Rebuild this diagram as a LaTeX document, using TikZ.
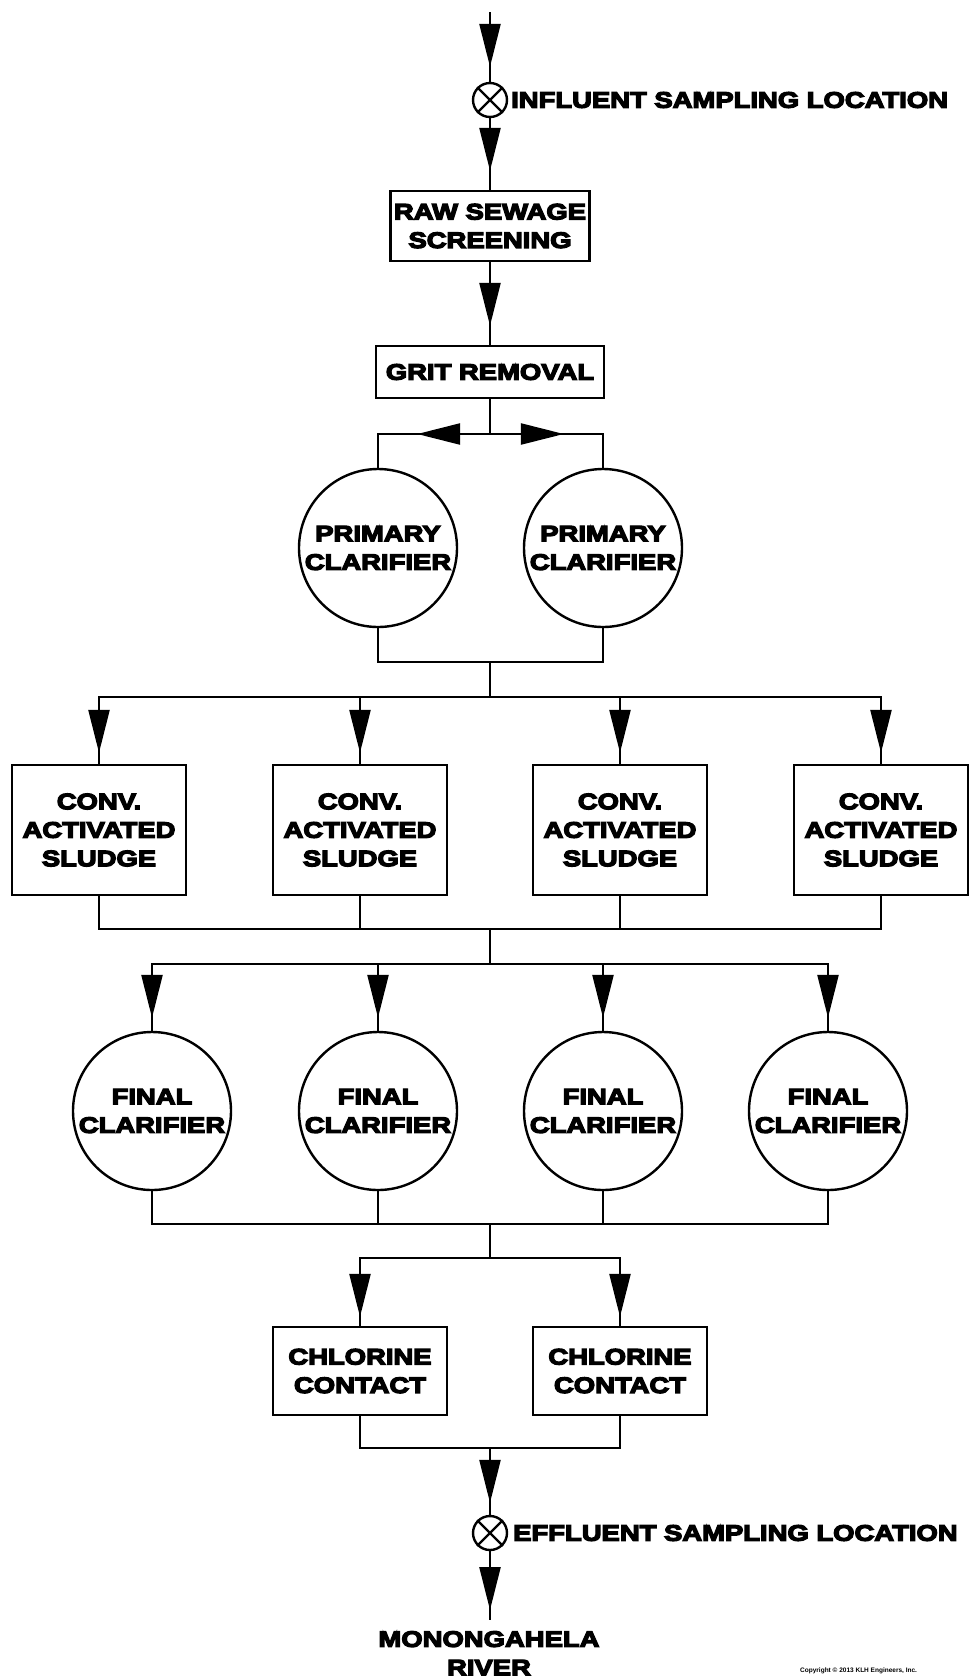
\documentclass[tikz,border=0pt]{standalone}
\usepackage{fontspec}
\newfontfamily\heavy{Liberation Sans}[UprightFont={* Bold}, FakeStretch=1.23, FakeBold=6]
\newfontfamily\copyfont{Liberation Sans}[UprightFont={* Bold}]
\usetikzlibrary{arrows.meta,decorations.markings}
\tikzset{
  ln/.style={line width=2.4pt, line join=miter},
  tipat/.style={postaction={decorate}, decoration={markings, mark=at position -#1 with {\arrow{Triangle[length=43pt,width=21pt]}}}},
  txt/.style={font=\heavy\fontsize{22.3pt}{28.5pt}\selectfont, align=center, inner sep=0pt},
  procbox/.style={ln, draw, rectangle, txt, minimum width=#1},
  clar/.style={ln, draw, circle, txt, minimum size=158pt},
  sampler/.style={ln, draw, circle, minimum size=34pt, inner sep=0pt},
  tiny/.style={font=\copyfont\fontsize{6.5pt}{7pt}\selectfont, inner sep=0pt}
}
\begin{document}
\begin{tikzpicture}[x=1pt,y=-1pt]
\fill[white] (0,0) rectangle (969,1679);
\useasboundingbox (0,0) rectangle (969,1679);

% top
\coordinate (top) at (490,12);
\node[sampler] (inf) at (490,100) {};
\draw[ln] (inf.45) -- (inf.225) (inf.135) -- (inf.315);
\node[txt, anchor=west] (inflbl) at (511,100) {INFLUENT SAMPLING LOCATION};

\node[procbox=199pt, minimum height=70pt] (raw) at (490,226) {RAW SEWAGE\\SCREENING};
\node[procbox=228pt, minimum height=52pt] (grit) at (490,372) {GRIT REMOVAL};

\coordinate (s1) at (490,434);
\node[clar] (pc1) at (378,548) {PRIMARY\\CLARIFIER};
\node[clar] (pc2) at (603,548) {PRIMARY\\CLARIFIER};
\coordinate (m1) at (490,662);

\draw[ln, tipat=15pt] (top) -- (inf.north);
\draw[ln, tipat=19pt] (inf.south) -- (raw.north);
\draw[ln, tipat=19pt] (raw.south) -- (grit.north);
\draw[ln] (grit.south) -- (s1);
\draw[ln, tipat=73pt] (s1) -| (pc1.north);
\draw[ln, tipat=73pt] (s1) -| (pc2.north);
\draw[ln] (pc1.south) |- (m1);
\draw[ln] (pc2.south) |- (m1);

% activated sludge
\coordinate (j1) at (490,697);
\coordinate (k1) at (490,929);
\draw[ln] (m1) -- (j1);
\node[procbox=174pt, minimum height=130pt] (sl1) at (99,830) {CONV.\\ACTIVATED\\SLUDGE};
\node[procbox=174pt, minimum height=130pt] (sl2) at (360,830) {CONV.\\ACTIVATED\\SLUDGE};
\node[procbox=174pt, minimum height=130pt] (sl3) at (620,830) {CONV.\\ACTIVATED\\SLUDGE};
\node[procbox=174pt, minimum height=130pt] (sl4) at (881,830) {CONV.\\ACTIVATED\\SLUDGE};
\foreach \n in {sl1,sl2,sl3,sl4}{
  \draw[ln, tipat=11pt] (j1) -| (\n.north);
  \draw[ln] (\n.south) |- (k1);
}

% final clarifiers
\coordinate (j2) at (490,964);
\coordinate (k2) at (490,1224);
\draw[ln] (k1) -- (j2);
\node[clar] (fc1) at (152,1111) {FINAL\\CLARIFIER};
\node[clar] (fc2) at (378,1111) {FINAL\\CLARIFIER};
\node[clar] (fc3) at (603,1111) {FINAL\\CLARIFIER};
\node[clar] (fc4) at (828,1111) {FINAL\\CLARIFIER};
\foreach \n in {fc1,fc2,fc3,fc4}{
  \draw[ln, tipat=13pt] (j2) -| (\n.north);
  \draw[ln] (\n.south) |- (k2);
}

% chlorine contact
\coordinate (j3) at (490,1258);
\coordinate (k3) at (490,1448);
\draw[ln] (k2) -- (j3);
\node[procbox=174pt, minimum height=88pt] (cc1) at (360,1371) {CHLORINE\\CONTACT};
\node[procbox=174pt, minimum height=88pt] (cc2) at (620,1371) {CHLORINE\\CONTACT};
\foreach \n in {cc1,cc2}{
  \draw[ln, tipat=9pt] (j3) -| (\n.north);
  \draw[ln] (\n.south) |- (k3);
}

% effluent
\node[sampler] (eff) at (490,1533) {};
\draw[ln] (eff.45) -- (eff.225) (eff.135) -- (eff.315);
\node[txt, anchor=west] (efflbl) at (513,1533) {EFFLUENT SAMPLING LOCATION};
\coordinate (bot) at (490,1620);
\draw[ln, tipat=12pt] (k3) -- (eff.north);
\draw[ln, tipat=10pt] (eff.south) -- (bot);
\node[txt, anchor=north] (river) at (489,1631) {MONONGAHELA\\RIVER};

\node[tiny, anchor=west] (copy) at (800,1671) {Copyright \textcopyright{} 2013 KLH Engineers, Inc.};
\end{tikzpicture}
\end{document}
